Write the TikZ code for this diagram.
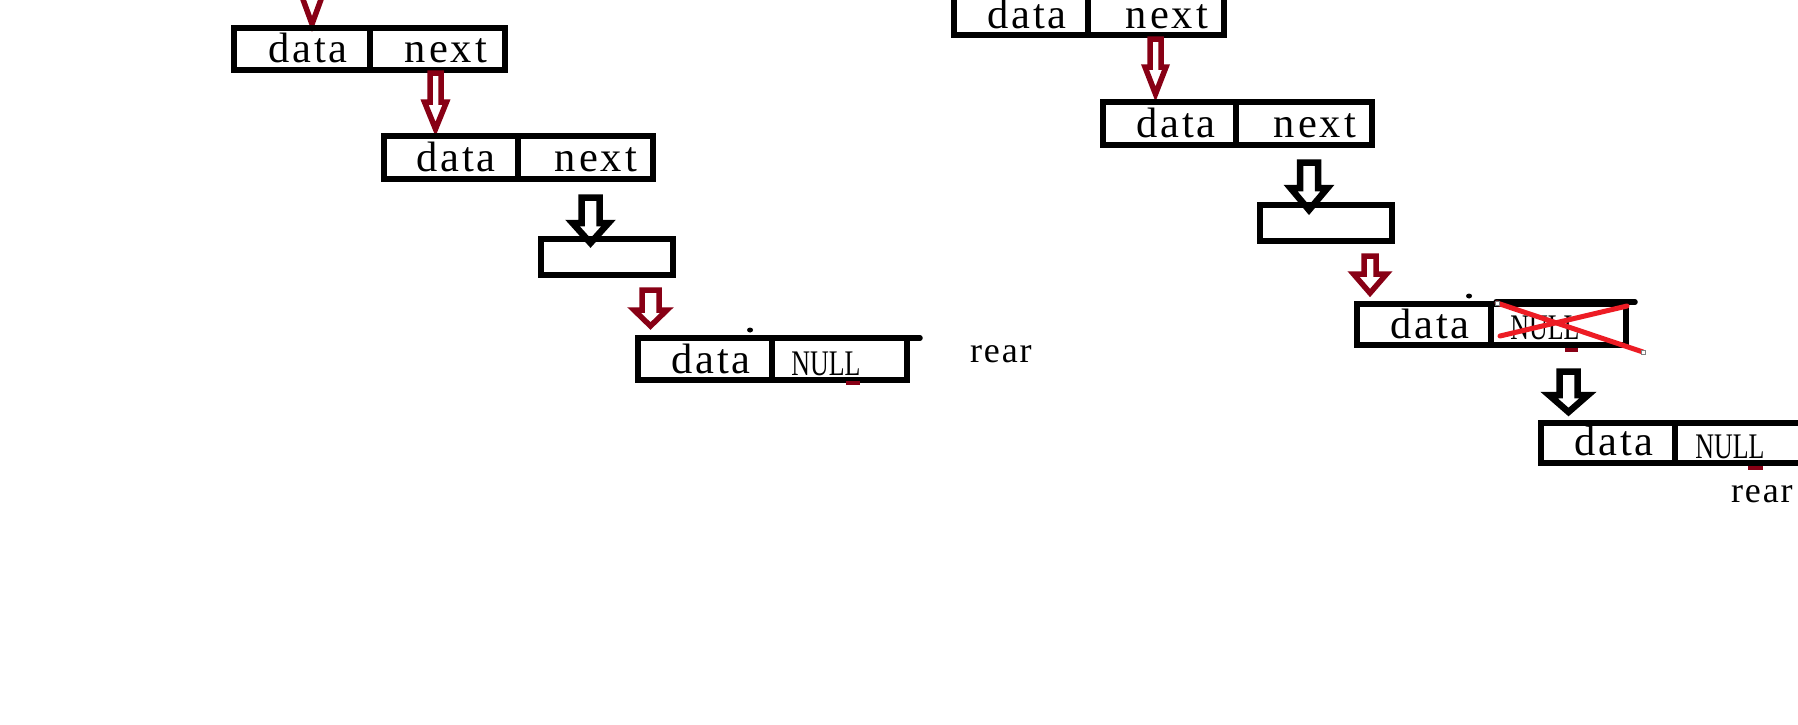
\documentclass[tikz,border=0pt]{standalone}
\usepackage{fontspec}
\setmainfont{Liberation Serif}
\newfontfamily\boxfnt[LetterSpace=7]{Liberation Serif}
\newfontfamily\nullfnt[FakeStretch=0.72]{Liberation Serif}
\newfontfamily\rearfnt[LetterSpace=5]{Liberation Serif}
\definecolor{dred}{HTML}{880015}
\definecolor{pred}{HTML}{ED1C24}
\newcommand\blockarrow[7]{%
  \draw[#1] ({#2-#6},#3) -- ({#2+#6},#3) -- ({#2+#6},#4) -- ({#2+#7},#4)
    -- (#2,#5) -- ({#2-#7},#4) -- ({#2-#6},#4) -- cycle;}
\tikzset{
  cellbox/.style={draw=black, line width=5.5pt, rectangle, inner sep=0pt, outer sep=0pt},
  redarrow/.style={draw=dred, line width=5.5pt, line join=miter},
  blackarrow/.style={draw=black, line width=6.5pt, line join=miter},
  celltext/.style={anchor=base, inner sep=0pt, font=\boxfnt\fontsize{42.5}{45}\selectfont},
  nulltext/.style={anchor=base, inner sep=0pt, font=\nullfnt\fontsize{36}{38}\selectfont},
  reartext/.style={anchor=base west, inner sep=0pt, font=\rearfnt\fontsize{36}{38}\selectfont},
  reddash/.style={draw=dred, line width=4pt},
  topline/.style={draw=black, line width=5.5pt, line cap=round},
  cross/.style={draw=pred, line width=5pt, line cap=round},
  handle/.style={draw=gray, fill=white, line width=0.8pt}
}
\begin{document}
\begin{tikzpicture}[x=1pt, y=-1pt]
\fill[white] (0,0) rectangle (1798,724);
\useasboundingbox (0,0) rectangle (1798,724);
\clip (0,0) rectangle (1798,724);

% ---------- left list ----------
\blockarrow{redarrow}{312}{-40}{-6}{24}{5.5}{11}
\node[cellbox, minimum width=136pt, minimum height=42pt] (b1d) at (302,49) {};
\node[cellbox, minimum width=135pt, minimum height=42pt] (b1n) at (437.5,49) {};
\node[celltext] (t1d) at (308,62) {data};
\node[celltext] (t1n) at (446,62) {next};

\blockarrow{redarrow}{435.5}{73}{102}{129}{5.5}{11}
\node[cellbox, minimum width=134pt, minimum height=43pt] (b2d) at (451,157.5) {};
\node[cellbox, minimum width=135pt, minimum height=43pt] (b2n) at (585.5,157.5) {};
\node[celltext] (t2d) at (456,171) {data};
\node[celltext] (t2n) at (596,171) {next};

\blockarrow{blackarrow}{590.5}{197.5}{223}{243}{9}{18}
\node[cellbox, minimum width=132pt, minimum height=36pt] (e1) at (607,257) {};

\blockarrow{redarrow}{650.5}{290}{310}{326}{8.5}{16.5}
\node[cellbox, minimum width=134pt, minimum height=42pt] (b3d) at (705,359) {};
\node[cellbox, minimum width=135pt, minimum height=42pt] (b3n) at (839.5,359) {};
\node[celltext] (t3d) at (711,373) {data};
\node[nulltext] (t3n) at (826,375) {NULL};
\fill[black] (750,330) ellipse (3pt and 2.5pt);
\draw[topline] (b3n.north west) ++(8,0) -- ++(140,0);
\draw[reddash] (846,383) -- (860,383);
\node[reartext] (rear1) at (970,362) {rear};

% ---------- right list ----------
\node[cellbox, minimum width=134pt, minimum height=42pt] (r1d) at (1021,14) {};
\node[cellbox, minimum width=136pt, minimum height=42pt] (r1n) at (1156,14) {};
\node[celltext] (s1d) at (1027,28) {data};
\node[celltext] (s1n) at (1167,28) {next};

\blockarrow{redarrow}{1155.5}{39}{67}{94}{5.5}{10.5}
\node[cellbox, minimum width=133pt, minimum height=43pt] (r2d) at (1169.5,123.5) {};
\node[cellbox, minimum width=136pt, minimum height=43pt] (r2n) at (1304,123.5) {};
\node[celltext] (s2d) at (1176,137) {data};
\node[celltext] (s2n) at (1315,137) {next};

\blockarrow{blackarrow}{1309}{162.5}{188}{210}{9}{18.5}
\node[cellbox, minimum width=132pt, minimum height=36pt] (re) at (1326,223) {};

\blockarrow{redarrow}{1370}{256}{274}{293}{6}{16.5}
\node[cellbox, minimum width=134pt, minimum height=41pt] (r3d) at (1424,324.5) {};
\node[cellbox, minimum width=135pt, minimum height=41pt] (r3n) at (1558.5,324.5) {};
\node[celltext] (s3d) at (1430,338) {data};
\node[nulltext] (s3n) at (1545,339) {NULL};
\fill[black] (1469,296) ellipse (3pt and 2.5pt);
\draw[topline] (r3n.north west) ++(5,-2) -- ++(139,0);
\draw[reddash] (1565,350) -- (1578,350);
\draw[cross] (1497,303) -- (1643,352);
\draw[cross] (1500,336) -- (1627,306);
\draw[handle] (1495,301) rectangle (1499,305);
\draw[handle] (1641,350) rectangle (1645,354);

\blockarrow{blackarrow}{1568.5}{371.5}{395}{412}{9}{19.5}
\node[cellbox, minimum width=134pt, minimum height=40pt] (r4d) at (1608,443) {};
\node[cellbox, minimum width=136pt, minimum height=40pt] (r4n) at (1743,443) {};
\node[celltext] (s4d) at (1614,455) {data};
\node[nulltext] (s4n) at (1730,458) {NULL};
\draw[reddash] (1748,468) -- (1763,468);
\node[reartext] (rear2) at (1731,502) {rear};
\end{tikzpicture}
\end{document}
